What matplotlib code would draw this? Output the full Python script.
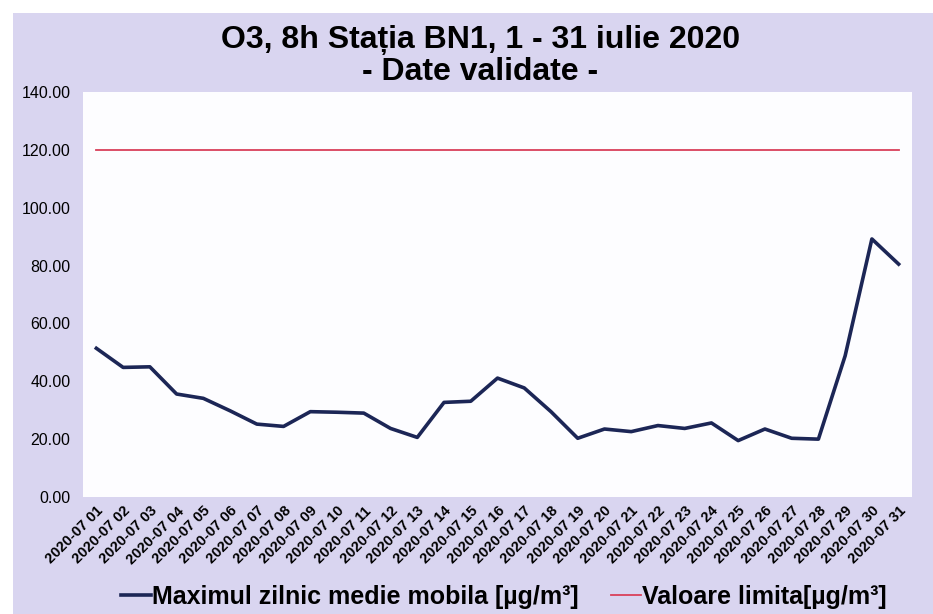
import matplotlib.pyplot as plt
from matplotlib.patches import Rectangle

plt.rcParams['font.family'] = ['Liberation Sans', 'DejaVu Sans']

# Date
zile = [f"2020-07 {d:02d}" for d in range(1, 32)]
maxim_zilnic = [51.4, 44.8, 45.0, 35.6, 34.1, 29.8, 25.2, 24.4, 29.5, 29.3,
                29.0, 23.7, 20.6, 32.7, 33.1, 41.1, 37.7, 29.5, 20.3, 23.5,
                22.6, 24.7, 23.7, 25.6, 19.5, 23.5, 20.3, 20.0, 48.8, 89.2,
                80.5]
valoare_limita = [120.0] * len(zile)
y_ticks = [0, 20, 40, 60, 80, 100, 120, 140]

fig = plt.figure(figsize=(9.33, 6.14), dpi=100)
fig.patch.set_facecolor('white')

# Fundal lavanda (ca in scanare)
fig.patches.append(Rectangle((13 / 933, 0), 1, 1 - 13 / 614,
                             transform=fig.transFigure, facecolor='#d9d5f0',
                             edgecolor='none', zorder=-10))

ax = fig.add_axes([83 / 933, 1 - 497 / 614, 829 / 933, 405 / 614])
ax.set_facecolor('#fdfdff')

x = list(range(len(zile)))
ax.plot(x, maxim_zilnic, color='#1c2656', linewidth=2.6,
        label='Maximul zilnic medie mobila [µg/m³]')
ax.plot(x, valoare_limita, color='#d9405a', linewidth=1.3,
        label='Valoare limita[µg/m³]')

ax.set_xlim(-0.5, len(zile) - 0.5)
ax.set_ylim(0, 140)
ax.set_yticks(y_ticks)
ax.set_yticklabels([f"{v:.2f}" for v in y_ticks], fontsize=11.5)
ax.set_xticks(x)
ax.set_xticklabels(zile, rotation=45, ha='right', rotation_mode='anchor',
                   fontsize=10.5, fontweight='bold')
ax.tick_params(axis='y', length=0, pad=9)
ax.tick_params(axis='x', length=0, pad=5)
for s in ax.spines.values():
    s.set_visible(False)

fig.text(0.515, 1 - 40 / 614, 'O3, 8h Stația BN1, 1 - 31 iulie 2020',
         ha='center', va='center', fontsize=23, fontweight='bold')
fig.text(0.515, 1 - 72 / 614, '- Date validate -',
         ha='center', va='center', fontsize=23, fontweight='bold')

fig.legend(loc='center', bbox_to_anchor=(0.54, 1 - 597 / 614), ncol=2,
           frameon=False, handlelength=1.2, handletextpad=0.05,
           columnspacing=1.3, prop={'size': 18, 'weight': 'bold'})

fig.savefig('out.png', dpi=100)
